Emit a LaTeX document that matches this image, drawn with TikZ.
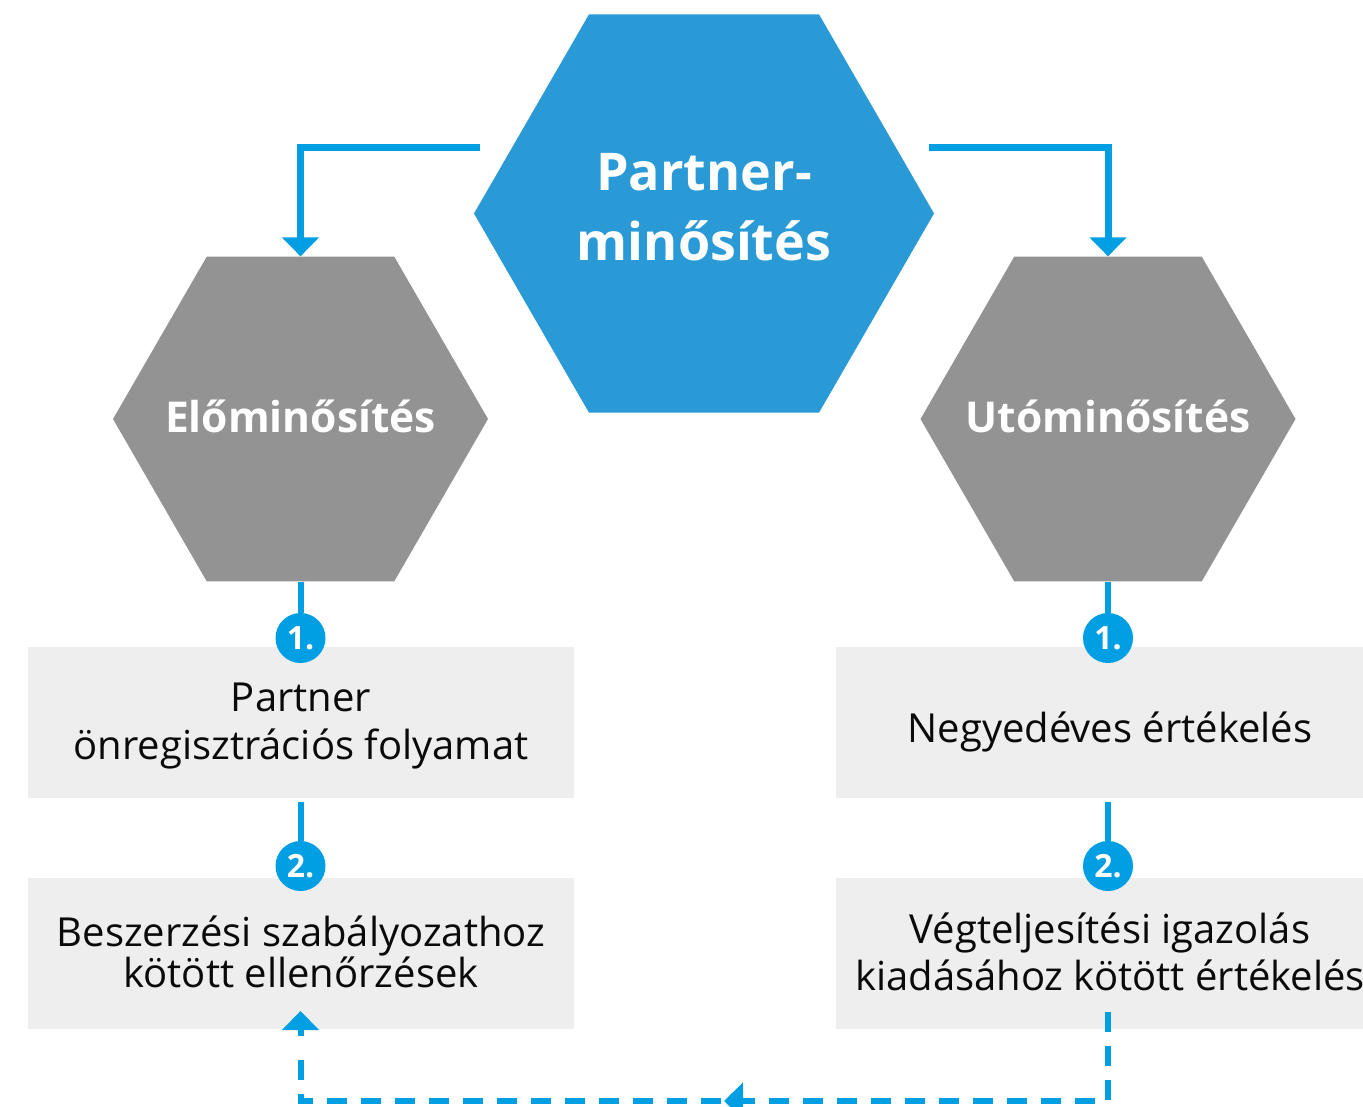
\documentclass[tikz,border=0pt]{standalone}
\usepackage{fontspec}
\setmainfont{Open Sans}
\usetikzlibrary{shapes.geometric,arrows.meta}
\definecolor{hexblue}{HTML}{2A9AD7}
\definecolor{lineblue}{HTML}{009EE2}
\definecolor{hexgray}{HTML}{939393}
\definecolor{boxgray}{HTML}{EEEEEE}
\definecolor{txt}{HTML}{0A0A0A}
\tikzset{
  hexa/.style={regular polygon, regular polygon sides=6, inner sep=0pt, draw=none},
  box/.style={rectangle, fill=boxgray, minimum width=546pt, minimum height=151pt, inner sep=0pt},
  boxtext/.style={align=center, text=txt, inner sep=0pt},
  num/.style={circle, fill=lineblue, minimum size=50pt, inner sep=0pt, text=white, font=\fontsize{32}{32}\selectfont\bfseries},
  solidarrow/.style={draw=lineblue, line width=7pt, -{Triangle[width=36pt,length=19pt]}},
  link/.style={draw=lineblue, line width=6pt},
  dashlink/.style={draw=lineblue, line width=6pt, dash pattern=on 20pt off 14pt},
  tip/.style={-{Triangle[width=36pt,length=19pt]}}
}
\begin{document}
\begin{tikzpicture}[x=1pt,y=-1pt]
\useasboundingbox (0,0) rectangle (1363,1106);
\clip (0,0) rectangle (1363,1106);
% hexagons
\node[hexa, fill=hexblue, minimum size=460pt] (main) at (704,213.5) {};
\node[hexa, fill=hexgray, minimum size=375pt] (pre) at (300.5,419) {};
\node[hexa, fill=hexgray, minimum size=375pt] (post) at (1108,419) {};
\node[text=white, align=center, font=\fontsize{52}{70}\selectfont\bfseries] (maintxt) at (704,207) {Partner-\\minősítés};
\node[text=white, font=\fontsize{42.5}{48}\selectfont\bfseries] (pretxt) at (300.5,416) {Előminősítés};
\node[text=white, font=\fontsize{42.5}{48}\selectfont\bfseries] (posttxt) at (1108,416) {Utóminősítés};
% boxes
\node[box] (l1) at (301,722.5) {};
\node[box] (l2) at (301,953.5) {};
\node[box, minimum width=548pt] (r1) at (1110,722.5) {};
\node[box, minimum width=548pt] (r2) at (1110,953.5) {};
\node[boxtext, font=\fontsize{40}{48}\selectfont] (l1t) at (301,726.5) {Partner\\önregisztrációs folyamat};
\node[boxtext, font=\fontsize{40}{39}\selectfont] (l2t) at (301,951.5) {Beszerzési szabályozathoz\\kötött ellenőrzések};
\node[boxtext, font=\fontsize{40}{48}\selectfont] (r1t) at (1110,731.5) {Negyedéves értékelés};
\node[boxtext, font=\fontsize{40}{47}\selectfont] (r2t) at (1110,951.5) {Végteljesítési igazolás\\kiadásához kötött értékelés};
% numbers
\node[num] (n1l) at (300.5,638) {1.};
\node[num] (n2l) at (300.5,866) {2.};
\node[num] (n1r) at (1108,638) {1.};
\node[num] (n2r) at (1108,866) {2.};
% connectors
\coordinate (mainL) at (480,147);
\coordinate (mainR) at (929,147);
\draw[solidarrow] (mainL) -- (300.5,147) -- (pre.north -| 300.5,0);
\draw[solidarrow] (mainR) -- (1108,147) -- (post.north);
\draw[link] (pre.south) -- (n1l);
\draw[link] (post.south) -- (n1r);
\draw[link] (l1.south -| n2l) ++(0,4) -- (n2l);
\draw[link] (r1.south -| n2r) ++(0,4) -- (n2r);
\coordinate (rs) at (1108,1012);
\coordinate (mid) at (724,1101);
\coordinate (ltip) at (300.5,1011);
\draw[dashlink, line cap=butt] (rs) -- (1108,1101) -- (300.5,1101) -- (300.5,1052);
\draw[lineblue, line width=6pt, tip] (300.5,1036) -- (ltip);
\draw[lineblue, line width=6pt, tip] (742,1101) -- (mid);
\end{tikzpicture}
\end{document}
